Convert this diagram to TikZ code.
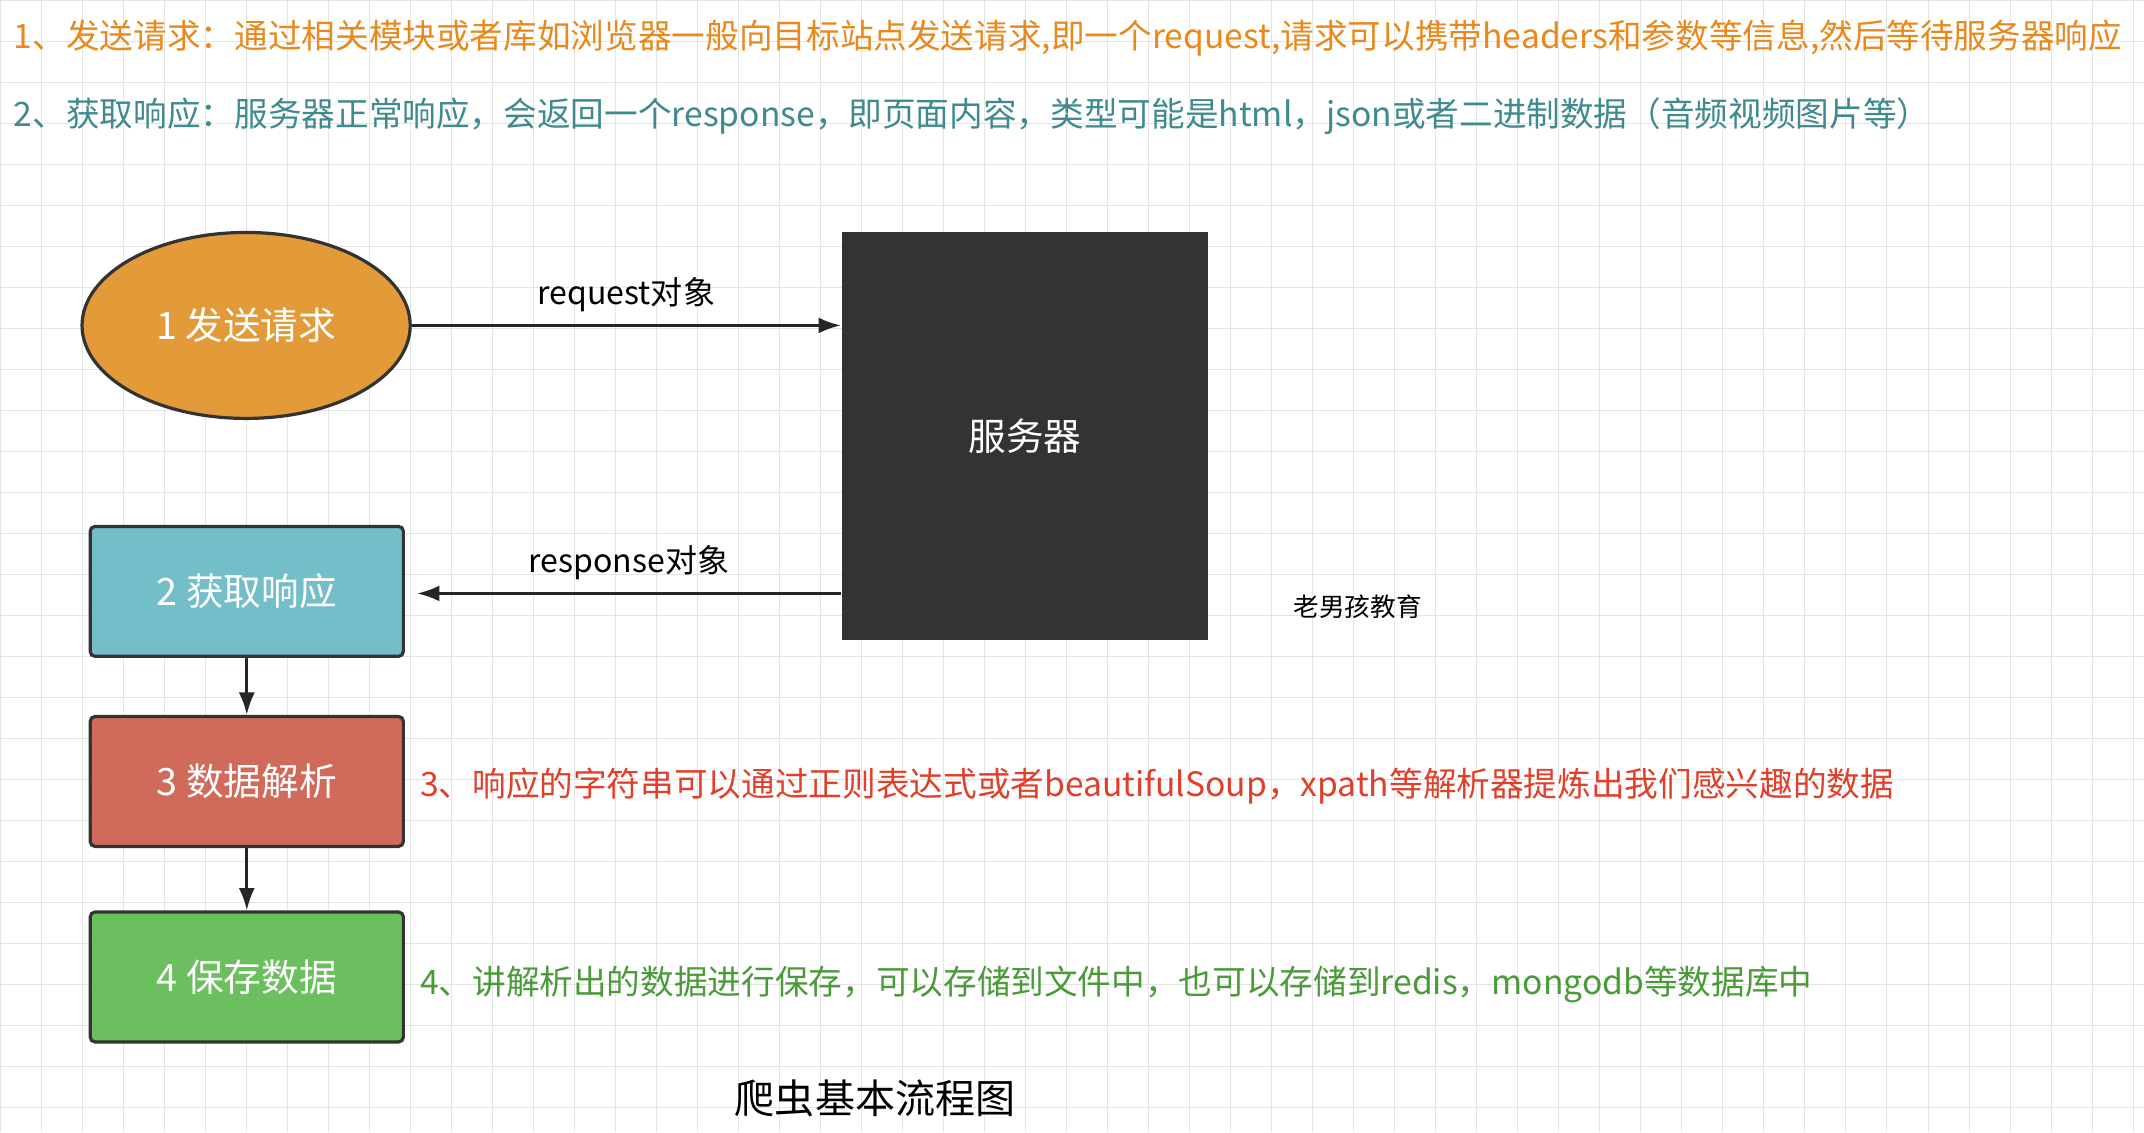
\documentclass[tikz,border=0pt]{standalone}
\usepackage{fontspec}
\setmainfont{Noto Sans CJK SC}
\usetikzlibrary{positioning,shapes.geometric,arrows.meta}
\definecolor{orangefill}{HTML}{E39B3A}
\definecolor{serverfill}{HTML}{333333}
\definecolor{tealfill}{HTML}{73BEC8}
\definecolor{redfill}{HTML}{D06A5B}
\definecolor{greenfill}{HTML}{6CBF5F}
\definecolor{orangetxt}{HTML}{E8891E}
\definecolor{tealtxt}{HTML}{3F8A8E}
\definecolor{redtxt}{HTML}{E0402A}
\definecolor{greentxt}{HTML}{4A9A3A}
\definecolor{gridc}{HTML}{E4E4E4}
\tikzset{>=latex}
\tikzset{
  stepbox/.style={draw=black!80,line width=2pt,rounded corners=3pt,minimum width=6.87cm,minimum height=2.85cm,text=white,font=\fontsize{23.5}{27}\selectfont},
  note/.style={anchor=west,inner sep=0pt,font=\fontsize{21}{24}\selectfont},
  conn/.style={-{Latex[length=14pt,width=10pt]},line width=1.8pt,black!85},
  lbl/.style={above=4pt,text=black,font=\fontsize{20}{23}\selectfont}
}
\begin{document}
\begin{tikzpicture}[x=0.03cm,y=-0.03cm]
    \useasboundingbox (0,0) rectangle (1568,828);
    \fill[white] (0,0) rectangle (1568,828);
    \foreach \gx in {0,30,...,1560} \draw[gridc,line width=0.6pt] (\gx,0) -- (\gx,828);
    \foreach \gy in {0,30,...,820} \draw[gridc,line width=0.6pt] (0,\gy) -- (1568,\gy);
    % header notes
    \node[note,text=orangetxt] (n1) at (10,28) {1、发送请求：通过相关模块或者库如浏览器一般向目标站点发送请求,即一个request,请求可以携带headers和参数等信息,然后等待服务器响应};
    \node[note,text=tealtxt] (n2) at (10,85) {2、获取响应：服务器正常响应，会返回一个response，即页面内容，类型可能是html，json或者二进制数据（音频视频图片等）};
    % shapes
    \node[ellipse,draw=black!80,line width=2pt,fill=orangefill,minimum width=7.2cm,minimum height=4.08cm,text=white,font=\fontsize{23.5}{27}\selectfont] (send) at (180,238) {1 发送请求};
    \node[draw=black!80,line width=2pt,fill=serverfill,minimum width=7.95cm,minimum height=8.88cm,text=white,font=\fontsize{23.5}{27}\selectfont] (server) at (749.5,319) {服务器};
    \node[stepbox,fill=tealfill] (get) at (180.5,432.5) {2 获取响应};
    \node[stepbox,fill=redfill] (parse) at (180.5,571.5) {3 数据解析};
    \node[stepbox,fill=greenfill] (save) at (180.5,714.5) {4 保存数据};
    % connectors
    \coordinate (reqend) at (615,238);
    \coordinate (respstart) at (615,434);
    \coordinate (respend) at (305,434);
    \draw[conn] (send.east) -- node[lbl] {request对象} (reqend);
    \draw[conn] (respstart) -- node[lbl] {response对象} (respend);
    \draw[conn] (get) -- (parse);
    \draw[conn] (parse) -- (save);
    % side notes
    \node[note,text=redtxt] (n3) at (307,575) {3、响应的字符串可以通过正则表达式或者beautifulSoup，xpath等解析器提炼出我们感兴趣的数据};
    \node[note,text=greentxt] (n4) at (307,720) {4、讲解析出的数据进行保存，可以存储到文件中，也可以存储到redis，mongodb等数据库中};
    \node[font=\fontsize{16}{19}\selectfont] (brand) at (993,444) {老男孩教育};
    \node[font=\fontsize{25}{29}\selectfont] (title) at (640,803) {爬虫基本流程图};
\end{tikzpicture}
\end{document}
